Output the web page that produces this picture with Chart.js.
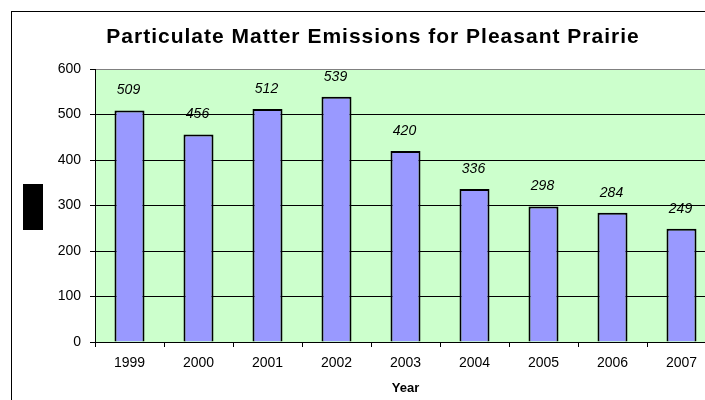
<!DOCTYPE html>
<html>
<head>
<meta charset="utf-8">
<script src="https://cdn.jsdelivr.net/npm/chart.js@4/dist/chart.umd.min.js"></script>
<style>
  html, body { margin: 0; padding: 0; background: #ffffff; overflow: hidden; }
  #wrap { width: 705px; height: 400px; overflow: hidden; }
  canvas { display: block; }
</style>
</head>
<body>
<div id="wrap"><canvas id="chart" width="745" height="400"></canvas></div>
<script>
// Emissions by year (tons)
const years = ['1999', '2000', '2001', '2002', '2003', '2004', '2005', '2006', '2007'];
const emissions = [509, 456, 512, 539, 420, 336, 298, 284, 249];
const yTicks = [0, 100, 200, 300, 400, 500, 600];
const chartTitle = 'Particulate Matter Emissions for Pleasant Prairie';

const FONT = "'Liberation Sans', Arial, sans-serif";

// Frame, plot fill and the boxed axis marker
const backdrop = {
  id: 'backdrop',
  beforeDraw(chart) {
    const { ctx, chartArea: a } = chart;
    ctx.save();
    ctx.fillStyle = '#ffffff';
    ctx.fillRect(0, 0, chart.width, chart.height);
    ctx.fillStyle = '#ccffcc';
    ctx.fillRect(a.left, a.top, a.right - a.left, a.bottom - a.top);
    ctx.strokeStyle = '#000000';
    ctx.lineWidth = 1;
    ctx.strokeRect(11.5, 11.5, 722, 500);
    ctx.fillStyle = '#000000';
    ctx.fillRect(23, 184, 20, 46);
    ctx.restore();
  }
};

// Spaced-out heading centred on the frame
const heading = {
  id: 'heading',
  afterDraw(chart) {
    const { ctx } = chart;
    ctx.save();
    ctx.font = 'bold 21px ' + FONT;
    if ('letterSpacing' in ctx) ctx.letterSpacing = '1px';
    ctx.fillStyle = '#000000';
    ctx.textAlign = 'center';
    ctx.textBaseline = 'middle';
    ctx.fillText(chartTitle, 373, 37);
    ctx.restore();
  }
};

// Value labels above each bar
const valueLabels = {
  id: 'valueLabels',
  afterDatasetsDraw(chart) {
    const { ctx } = chart;
    const meta = chart.getDatasetMeta(0);
    ctx.save();
    ctx.font = 'italic 14px ' + FONT;
    ctx.fillStyle = '#000000';
    ctx.textAlign = 'center';
    ctx.textBaseline = 'middle';
    meta.data.forEach((bar, i) => {
      ctx.fillText(String(emissions[i]), bar.x - 1, bar.y - 20);
    });
    ctx.restore();
  }
};

new Chart(document.getElementById('chart'), {
  type: 'bar',
  data: {
    labels: years,
    datasets: [{
      data: emissions,
      backgroundColor: '#9999ff',
      borderColor: '#000000',
      borderWidth: 2,
      borderSkipped: 'start',
      barPercentage: 0.435,
      categoryPercentage: 1
    }]
  },
  options: {
    responsive: false,
    animation: false,
    events: [],
    layout: { padding: { left: 29, right: 29, top: 69, bottom: 0 } },
    plugins: {
      legend: { display: false },
      tooltip: { enabled: false },
      title: { display: false }
    },
    scales: {
      x: {
        afterFit(scale) { scale.height = 58; },
        grid: {
          offset: true,
          drawOnChartArea: false,
          drawTicks: true,
          tickLength: 5,
          tickColor: '#000000'
        },
        border: { display: true, color: '#000000', width: 1 },
        ticks: {
          color: '#000000',
          padding: 8,
          font: { family: FONT, size: 14 }
        },
        title: {
          display: true,
          text: 'Year',
          color: '#000000',
          font: { family: FONT, size: 13, weight: 'bold' },
          padding: { top: 0, bottom: 4 }
        }
      },
      y: {
        min: 0,
        max: 600,
        afterFit(scale) { scale.width = 66; },
        afterBuildTicks(scale) { scale.ticks = yTicks.map(v => ({ value: v })); },
        grid: {
          color: ctx => (ctx.tick && ctx.tick.value === 600 ? '#808080' : '#000000'),
          lineWidth: 1,
          tickLength: 5,
          tickColor: '#000000'
        },
        border: { display: true, color: '#000000', width: 1 },
        ticks: {
          color: '#000000',
          padding: 9,
          font: { family: FONT, size: 14 }
        }
      }
    }
  },
  plugins: [backdrop, heading, valueLabels]
});
</script>
</body>
</html>
